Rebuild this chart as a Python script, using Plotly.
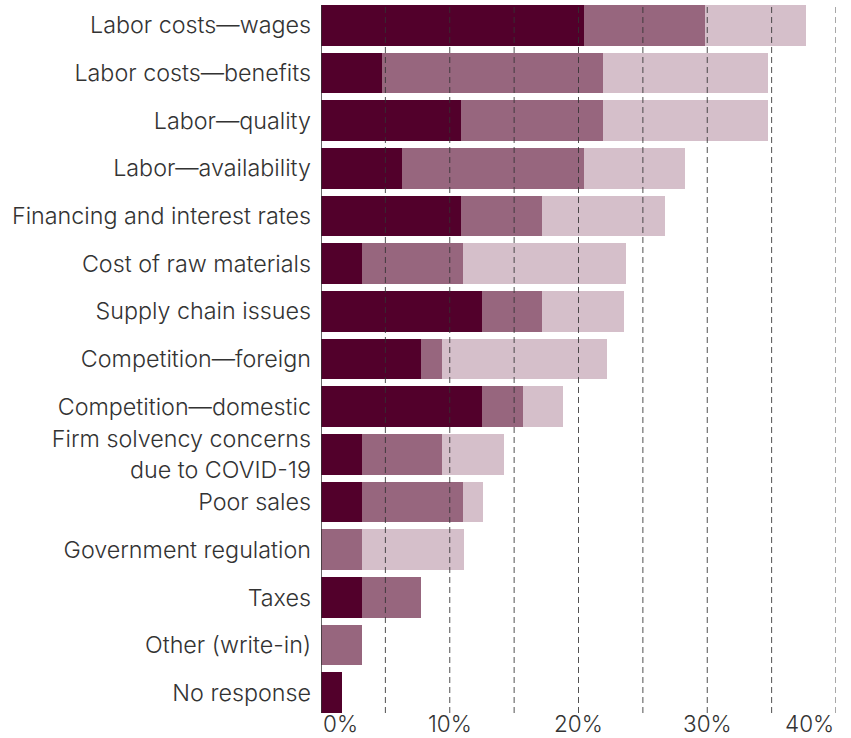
import plotly.graph_objects as go

categories = [
    "Labor costs—wages",
    "Labor costs—benefits",
    "Labor—quality",
    "Labor—availability",
    "Financing and interest rates",
    "Cost of raw materials",
    "Supply chain issues",
    "Competition—foreign",
    "Competition—domestic",
    "Firm solvency concerns<br>due to COVID-19",
    "Poor sales",
    "Government regulation",
    "Taxes",
    "Other (write-in)",
    "No response",
]

# stacked shares, in percent (dark / medium / light segments)
series_dark = [20.4, 4.7, 10.9, 6.3, 10.9, 3.2, 12.5, 7.8, 12.5, 3.2, 3.2, 0, 3.2, 0, 1.6]
series_mid = [9.4, 17.2, 11.0, 14.1, 6.3, 7.8, 4.7, 1.6, 3.2, 6.2, 7.8, 3.2, 4.6, 3.2, 0]
series_light = [7.9, 12.8, 12.8, 7.9, 9.5, 12.7, 6.3, 12.8, 3.1, 4.8, 1.6, 7.9, 0, 0, 0]

colors = ["#52002b", "#97667e", "#d5bfca"]

tick_vals = [0, 10, 20, 30, 40]
tick_text = ["0%", "10%", "20%", "30%", "40%"]
grid_vals = [5, 10, 15, 20, 25, 30, 35, 40]

FONT = "Inter"
FONT_SIZE = 23.3
fig = go.Figure()
for vals, col in zip([series_dark, series_mid, series_light], colors):
    fig.add_trace(go.Bar(
        y=categories, x=vals, orientation="h",
        marker=dict(color=col, line=dict(width=0)),
        hoverinfo="skip", showlegend=False,
    ))

shapes = []
for g in grid_vals:
    shapes.append(dict(type="line", xref="x", yref="paper", x0=g, x1=g, y0=0, y1=1,
                       line=dict(color="rgba(50,50,50,0.85)", width=1, dash="6px,4px"),
                       layer="above"))
shapes.append(dict(type="line", xref="x", yref="paper", x0=0, x1=0, y0=0, y1=1,
                   line=dict(color="#333333", width=1.5), layer="above"))

annotations = []
for v, t in zip(tick_vals, tick_text):
    anchor = "left" if v == tick_vals[0] else ("right" if v == tick_vals[-1] else "center")
    annotations.append(dict(x=v, y=0, xref="x", yref="paper", text=t, showarrow=False,
                            xanchor=anchor, yanchor="top", yshift=5,
                            font=dict(family=FONT, size=22.5, color="#333333", weight=300)))

fig.update_layout(
    width=851, height=738,
    margin=dict(l=321, r=15, t=5, b=25),
    barmode="stack", bargap=0.15,
    plot_bgcolor="white", paper_bgcolor="white",
    shapes=shapes, annotations=annotations,
    xaxis=dict(range=[0, 40], showgrid=False, zeroline=False, showticklabels=False,
               showline=False, fixedrange=True),
    yaxis=dict(type="category", categoryorder="array", categoryarray=categories,
               range=[len(categories) - 1 + 0.425, -0.425],
               showgrid=False, zeroline=False, showline=False, ticks="",
               ticklabelstandoff=9, fixedrange=True,
               tickfont=dict(family=FONT, size=FONT_SIZE, color="#333333", weight=300)),
)

fig.write_html("out.html", config={"displayModeBar": False},
               post_script="document.body.style.margin='0';document.body.style.overflow='hidden';")
